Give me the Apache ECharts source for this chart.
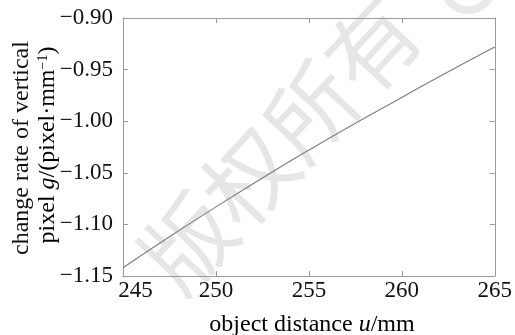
<!DOCTYPE html>
<html>
<head>
<meta charset="utf-8">
<script src="https://cdn.jsdelivr.net/npm/echarts@6/dist/echarts.min.js"></script>
<style>
  html, body { margin: 0; padding: 0; background: #fff; }
  #chart { width: 515px; height: 335px; }
</style>
</head>
<body>
<div id="chart"></div>
<script>
// object distance u (mm) and change rate of vertical pixel g
const distance = [245, 247.5, 250, 252.5, 255, 257.5, 260, 262.5, 265];
const rate = [-1.142, -1.112, -1.083, -1.055, -1.028, -1.002, -0.977, -0.952, -0.928];
const xTicks = [245, 250, 255, 260, 265];
const yTicks = [-1.15, -1.10, -1.05, -1.00, -0.95, -0.90];

const serif = '"Liberation Serif", "DejaVu Serif", serif';
const axisGray = '#9a9a9a';

const chart = echarts.init(document.getElementById('chart'), null, { renderer: 'canvas' });

const fmtY = (v) => {
    // typographic minus like the original figure
    return (v < 0 ? '\u2212' : '') + Math.abs(v).toFixed(2);
};

const baseX = {
    type: 'value',
    min: xTicks[0],
    max: xTicks[xTicks.length - 1],
    interval: 5,
    axisLine: { show: true, onZero: false, lineStyle: { color: axisGray, width: 1 } },
    axisTick: { show: true, inside: true, length: 5, lineStyle: { color: axisGray } },
    splitLine: { show: false }
};
const baseY = {
    type: 'value',
    min: yTicks[0],
    max: yTicks[yTicks.length - 1],
    interval: 0.05,
    axisLine: { show: true, onZero: false, lineStyle: { color: axisGray, width: 1 } },
    axisTick: { show: true, inside: true, length: 5, lineStyle: { color: axisGray } },
    splitLine: { show: false }
};

const option = {
    backgroundColor: '#ffffff',
    animation: false,
    grid: { left: 123, top: 18, right: 14, bottom: 59, containLabel: false },
    xAxis: [
        Object.assign({}, baseX, {
            position: 'bottom',
            axisLabel: {
                color: '#111',
                fontFamily: serif,
                fontSize: 23,
                margin: 3,
                formatter: (v) => v === xTicks[0] ? '{a|' + v + '}' : String(v),
                rich: { a: { fontFamily: serif, fontSize: 23, color: '#111', padding: [0, 0, 0, 25] } }
            }
        }),
        Object.assign({}, baseX, { position: 'top', axisLabel: { show: false } })
    ],
    yAxis: [
        Object.assign({}, baseY, {
            position: 'left',
            axisLabel: { color: '#111', fontFamily: serif, fontSize: 23, margin: 10, formatter: fmtY }
        }),
        Object.assign({}, baseY, { position: 'right', axisLabel: { show: false } })
    ],
    graphic: [
        {
            type: 'text', z: 0, x: 280, y: 144, rotation: 0.82,
            style: {
                text: '版权所有',
                fontFamily: '"Noto Sans CJK SC", sans-serif',
                fontSize: 90,
                fill: '#e6e6e6',
                textAlign: 'center',
                textVerticalAlign: 'middle'
            }
        },
        {
            type: 'circle', z: 0, shape: { cx: 468, cy: -14, r: 24 },
            style: { fill: 'none', stroke: '#e8e8e8', lineWidth: 8 }
        },
        {
            type: 'text', x: 22, y: 148, rotation: Math.PI / 2,
            style: {
                text: 'change rate of vertical',
                fontFamily: serif, fontSize: 24, fill: '#111',
                textAlign: 'center', textVerticalAlign: 'middle'
            }
        },
        {
            type: 'text', x: 48, y: 145, rotation: Math.PI / 2,
            style: {
                text: '{n|pixel }{i|g}{n|/(pixel\u00b7mm}{s|\u22121}{n|)}',
                textAlign: 'center', textVerticalAlign: 'middle',
                rich: {
                    n: { fontFamily: serif, fontSize: 24, color: '#111' },
                    i: { fontFamily: serif, fontSize: 24, fontStyle: 'italic', color: '#111' },
                    s: { fontFamily: serif, fontSize: 14, color: '#111', verticalAlign: 'top' }
                }
            }
        },
        {
            type: 'text', x: 312, y: 325,
            style: {
                text: '{n|object distance }{i|u}{n|/mm}',
                textAlign: 'center', textVerticalAlign: 'middle',
                rich: {
                    n: { fontFamily: serif, fontSize: 24, color: '#111' },
                    i: { fontFamily: serif, fontSize: 24, fontStyle: 'italic', color: '#111' }
                }
            }
        }
    ],
    series: [
        {
            type: 'line',
            xAxisIndex: 0,
            yAxisIndex: 0,
            data: distance.map((u, i) => [u, rate[i]]),
            showSymbol: false,
            smooth: true,
            z: 3,
            lineStyle: { color: '#7d7d7d', width: 1.1 }
        }
    ]
};

chart.setOption(option);
</script>
</body>
</html>
